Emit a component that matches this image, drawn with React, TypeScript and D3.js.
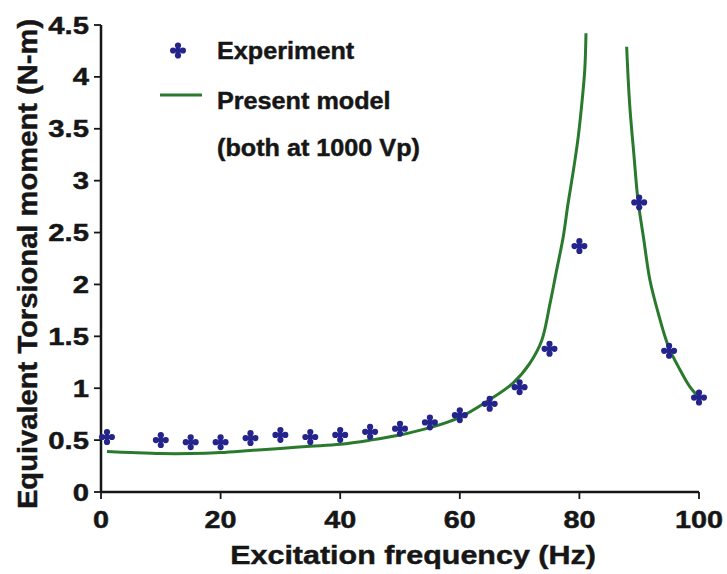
import React from "react";
import * as d3 from "d3";

const expFreq = [1, 10, 15, 20, 25, 30, 35, 40, 45, 50, 55, 60, 65, 70, 75, 80, 90, 95, 100];
const expMoment = [0.53, 0.5, 0.48, 0.48, 0.52, 0.55, 0.53, 0.55, 0.58, 0.61, 0.67, 0.74, 0.85, 1.01, 1.38, 2.37, 2.79, 1.36, 0.91];

const modelLeftFreq = [1, 5, 10, 15, 20, 25, 30, 35, 40, 45, 50, 55, 60, 65, 68.9, 71.7, 73.7, 75.1, 76.2, 77.3, 78.1, 79.0, 79.8, 80.4, 80.9, 81.1];
const modelLeftMoment = [0.39, 0.38, 0.37, 0.37, 0.38, 0.4, 0.42, 0.44, 0.46, 0.5, 0.55, 0.62, 0.72, 0.89, 1.05, 1.24, 1.46, 1.82, 2.14, 2.46, 2.78, 3.1, 3.42, 3.74, 4.07, 4.42];

const modelRightFreq = [87.9, 88.4, 89.1, 89.8, 90.7, 91.8, 93.2, 94.9, 96.8, 98.4, 100];
const modelRightMoment = [4.29, 3.74, 3.26, 2.81, 2.46, 2.04, 1.72, 1.4, 1.18, 1.02, 0.91];

const xTicks = [0, 20, 40, 60, 80, 100];
const yTicks = [0, 0.5, 1, 1.5, 2, 2.5, 3, 3.5, 4, 4.5];

const FONT = "'Liberation Sans', Arial, Helvetica, sans-serif";
const GREEN = "#2a7a2e";
const BLUE = "#24248c";
const INK = "#161616";

function Marker({ x, y }: { x: number; y: number }) {
  const r = 3.1;
  const d = 4.9;
  return (
    <g transform={`translate(${x},${y})`} fill={BLUE}>
      <rect x={-1.9} y={-7} width={3.8} height={14} />
      <rect x={-7} y={-1.9} width={14} height={3.8} />
      <circle cx={0} cy={-d} r={r} />
      <circle cx={0} cy={d} r={r} />
      <circle cx={-d} cy={0} r={r} />
      <circle cx={d} cy={0} r={r} />
    </g>
  );
}

export default function App() {
  const W = 727;
  const H = 574;
  const x = d3.scaleLinear().domain([0, 100]).range([101, 699]);
  const y = d3.scaleLinear().domain([0, 4.5]).range([492, 25]);

  const line = d3
    .line<[number, number]>()
    .x((d) => x(d[0]))
    .y((d) => y(d[1]))
    .curve(d3.curveCatmullRom.alpha(0.5));

  const leftPts: [number, number][] = modelLeftFreq.map((f, i) => [f, modelLeftMoment[i]]);
  const rightPts: [number, number][] = modelRightFreq.map((f, i) => [f, modelRightMoment[i]]);

  const textStyle = { stroke: INK, strokeWidth: 0.45 };

  return (
    <svg
      width={W}
      height={H}
      style={{ position: "absolute", left: 0, top: 0, background: "#fff" }}
      fontFamily={FONT}
      fontWeight="bold"
    >
      {/* axes */}
      <line x1={x(0)} x2={x(100)} y1={y(0)} y2={y(0)} stroke={INK} strokeWidth={2.5} />
      <line x1={x(0)} x2={x(0)} y1={y(0)} y2={y(4.5)} stroke={INK} strokeWidth={2.5} />
      {xTicks.map((t) => (
        <g key={`xt${t}`}>
          <line x1={x(t)} x2={x(t)} y1={y(0)} y2={y(0) + 7} stroke={INK} strokeWidth={1.8} />
          <text
            transform={`translate(${x(t)},528) scale(1.2,1)`}
            textAnchor="middle"
            fontSize={24}
            fill={INK}
            style={textStyle}
          >
            {t}
          </text>
        </g>
      ))}
      {yTicks.map((t) => (
        <g key={`yt${t}`}>
          <line x1={x(0) - 7} x2={x(0)} y1={y(t)} y2={y(t)} stroke={INK} strokeWidth={1.8} />
          <text
            transform={`translate(89,${y(t) + 8.5}) scale(1.22,1)`}
            textAnchor="end"
            fontSize={24}
            fill={INK}
            style={textStyle}
          >
            {t}
          </text>
        </g>
      ))}

      {/* axis titles */}
      <text
        transform="translate(413,564) scale(1.15,1)"
        textAnchor="middle"
        fontSize={26.5}
        fill={INK}
        style={textStyle}
      >
        Excitation frequency (Hz)
      </text>
      <text
        transform="translate(37,264) rotate(-90) scale(1.08,1)"
        textAnchor="middle"
        fontSize={27}
        fill={INK}
        style={textStyle}
      >
        Equivalent Torsional moment (N-m)
      </text>

      {/* model */}
      <path d={line(leftPts) || ""} fill="none" stroke={GREEN} strokeWidth={3} />
      <path d={line(rightPts) || ""} fill="none" stroke={GREEN} strokeWidth={3} />

      {/* experiment */}
      {expFreq.map((f, i) => (
        <Marker key={`m${i}`} x={x(f)} y={y(expMoment[i])} />
      ))}

      {/* legend */}
      <Marker x={178} y={50.5} />
      <line x1={160} x2={202} y1={95} y2={95} stroke={GREEN} strokeWidth={3} />
      <text transform="translate(217,59) scale(1.05,1)" fontSize={24} fill={INK} style={textStyle}>
        Experiment
      </text>
      <text transform="translate(217,109) scale(1.05,1)" fontSize={24} fill={INK} style={textStyle}>
        Present model
      </text>
      <text transform="translate(217,156) scale(1.05,1)" fontSize={24} fill={INK} style={textStyle}>
        (both at 1000 Vp)
      </text>
    </svg>
  );
}
